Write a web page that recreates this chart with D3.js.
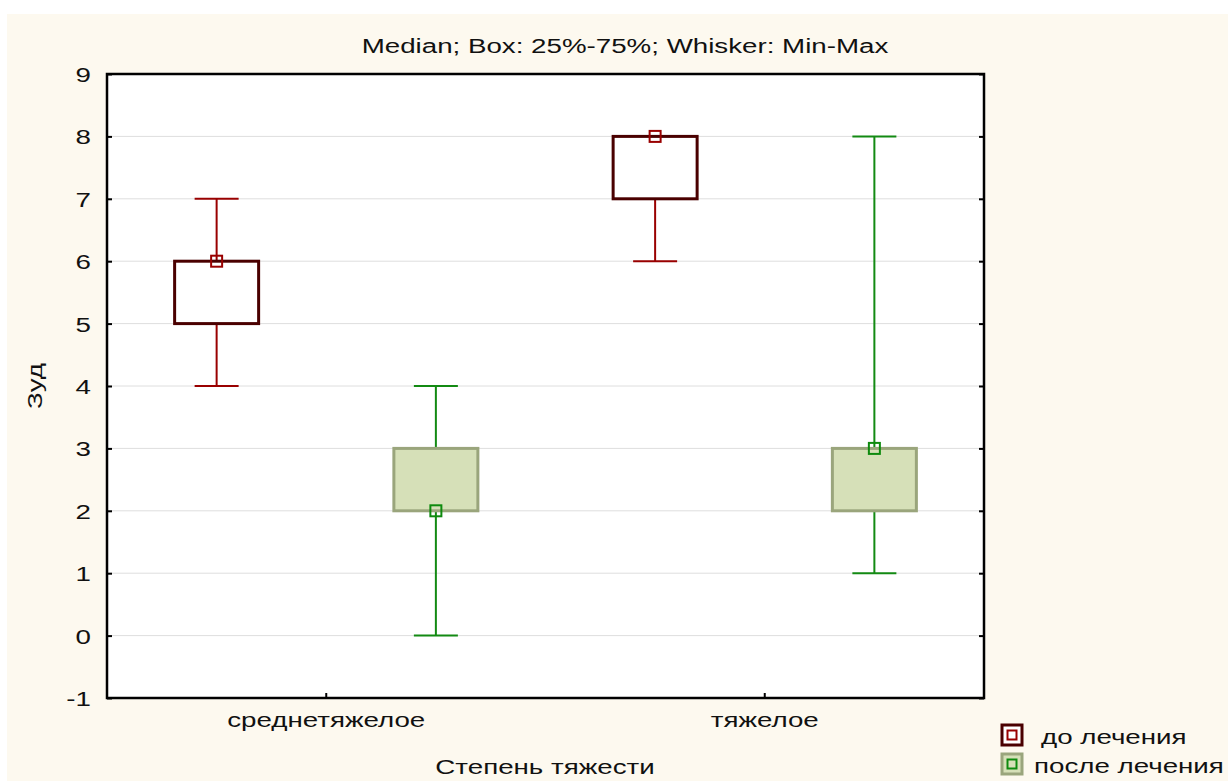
<!DOCTYPE html>
<html>
<head>
<meta charset="utf-8">
<script src="https://cdn.jsdelivr.net/npm/d3@7/dist/d3.min.js"></script>
<style>
  html, body { margin: 0; padding: 0; background: #ffffff; }
  svg { display: block; }
  text { font-family: Arial, "Liberation Sans", sans-serif; fill: #111; }
</style>
</head>
<body>
<svg id="chart" width="1228" height="781"></svg>
<script>
// Severity groups and treatment series
const categories = ["среднетяжелое", "тяжелое"];
const seriesNames = ["до лечения", "после лечения"];

// Box-plot statistics per category: [min, q1, median, q3, max]
const beforeStats = [[4, 5, 6, 6, 7], [6, 7, 8, 8, 8]];
const afterStats  = [[0, 2, 2, 3, 4], [1, 2, 3, 3, 8]];

const yTicks = [-1, 0, 1, 2, 3, 4, 5, 6, 7, 8, 9];
const titleText = "Median; Box: 25%-75%; Whisker: Min-Max";
const yLabel = "Зуд";
const xLabel = "Степень тяжести";

const styles = [
  { boxFill: "#ffffff", boxStroke: "#4a0000", whisker: "#990000", marker: "#990000" },
  { boxFill: "#d6e0b8", boxStroke: "#9aa57c", whisker: "#138a13", marker: "#0e8a0e" }
];

// wide, horizontally stretched lettering
const FS = "21px", SX = 1.32;

const svg = d3.select("#chart");
const W = 1228, H = 781;
const plot = { left: 107, top: 74, right: 984, bottom: 698 };

// places a stretched label with its anchor at (x, y)
function label(parent, x, y, str, anchor, rotate) {
  const g = parent.append("g")
    .attr("transform", `translate(${x},${y})` + (rotate ? ` rotate(${rotate})` : "") + ` scale(${SX},1)`);
  g.append("text").attr("text-anchor", anchor || "start").style("font-size", FS).text(str);
  return g;
}

// page background
svg.append("rect").attr("x", 7).attr("y", 14).attr("width", W - 7).attr("height", H - 14)
  .attr("fill", "#fdf9ef");

// plot area
svg.append("rect").attr("x", plot.left).attr("y", plot.top)
  .attr("width", plot.right - plot.left).attr("height", plot.bottom - plot.top)
  .attr("fill", "#ffffff");

const y = d3.scaleLinear().domain([-1, 9]).range([plot.bottom, plot.top]);
const x = d3.scaleBand().domain(categories).range([plot.left, plot.right]).padding(0);
const xs = d3.scaleBand().domain(seriesNames).range([0, x.bandwidth()]).padding(0);

// gridlines
svg.append("g").selectAll("line").data(yTicks.filter(t => t > -1 && t < 9)).join("line")
  .attr("x1", plot.left).attr("x2", plot.right)
  .attr("y1", d => y(d)).attr("y2", d => y(d))
  .attr("stroke", "#dedede").attr("stroke-width", 1);

// left axis with labels
const yAxisL = svg.append("g").attr("transform", `translate(${plot.left},0)`)
  .call(d3.axisLeft(y).tickValues(yTicks).tickSize(-5).tickFormat(d => String(d)));
yAxisL.select(".domain").remove();
yAxisL.selectAll("line").attr("stroke", "#000").attr("stroke-width", 2);
yAxisL.selectAll("text")
  .attr("x", -16 / SX).attr("dy", "0.36em")
  .attr("transform", `scale(${SX},1)`)
  .style("font-size", FS).attr("fill", "#111");

// right axis ticks (inward)
const yAxisR = svg.append("g").attr("transform", `translate(${plot.right},0)`)
  .call(d3.axisRight(y).tickValues(yTicks).tickSize(-5).tickFormat(""));
yAxisR.select(".domain").remove();
yAxisR.selectAll("line").attr("stroke", "#000").attr("stroke-width", 2);

// bottom axis ticks and category labels
const xAxis = svg.append("g").attr("transform", `translate(0,${plot.bottom})`)
  .call(d3.axisBottom(x).tickSize(-5));
xAxis.select(".domain").remove();
xAxis.selectAll("line").attr("stroke", "#000").attr("stroke-width", 2);
xAxis.selectAll("text")
  .attr("y", 29).attr("dy", 0)
  .attr("transform", `scale(${SX},1)`)
  .style("font-size", FS).attr("fill", "#111");

// boxes
const boxW = 84, capW = 44, markS = 11;
const allStats = [beforeStats, afterStats];
allStats.forEach((stats, si) => {
  const st = styles[si];
  const g = svg.append("g");
  stats.forEach((s, ci) => {
    const cx = x(categories[ci]) + xs(seriesNames[si]) + xs.bandwidth() / 2;
    const [mn, q1, med, q3, mx] = s;
    // whiskers
    g.append("line").attr("x1", cx).attr("x2", cx).attr("y1", y(q3)).attr("y2", y(mx))
      .attr("stroke", st.whisker).attr("stroke-width", 2);
    g.append("line").attr("x1", cx).attr("x2", cx).attr("y1", y(q1)).attr("y2", y(mn))
      .attr("stroke", st.whisker).attr("stroke-width", 2);
    g.append("line").attr("x1", cx - capW / 2).attr("x2", cx + capW / 2).attr("y1", y(mx)).attr("y2", y(mx))
      .attr("stroke", st.whisker).attr("stroke-width", 2);
    g.append("line").attr("x1", cx - capW / 2).attr("x2", cx + capW / 2).attr("y1", y(mn)).attr("y2", y(mn))
      .attr("stroke", st.whisker).attr("stroke-width", 2);
    // box
    g.append("rect").attr("x", cx - boxW / 2).attr("y", y(q3))
      .attr("width", boxW).attr("height", y(q1) - y(q3))
      .attr("fill", st.boxFill).attr("stroke", st.boxStroke).attr("stroke-width", 3);
    // median marker
    g.append("rect").attr("x", cx - markS / 2).attr("y", y(med) - markS / 2)
      .attr("width", markS).attr("height", markS)
      .attr("fill", "none").attr("stroke", st.marker).attr("stroke-width", 2);
  });
});

// plot frame
svg.append("rect").attr("x", plot.left).attr("y", plot.top)
  .attr("width", plot.right - plot.left).attr("height", plot.bottom - plot.top)
  .attr("fill", "none").attr("stroke", "#000").attr("stroke-width", 2.5);

// title and axis labels
label(svg, 625, 53, titleText, "middle");
label(svg, 42, 386, yLabel, "middle", -90);
label(svg, 545, 774, xLabel, "middle");

// legend
const legend = svg.append("g");
seriesNames.forEach((name, i) => {
  const st = styles[i];
  const ly = 725 + i * 29;
  legend.append("rect").attr("x", 1002).attr("y", ly).attr("width", 20).attr("height", 20)
    .attr("fill", st.boxFill).attr("stroke", st.boxStroke).attr("stroke-width", 3);
  legend.append("rect").attr("x", 1007.5).attr("y", ly + 5.5).attr("width", 9).attr("height", 9)
    .attr("fill", "none").attr("stroke", st.marker).attr("stroke-width", 2);
  label(legend, i === 0 ? 1041 : 1034, ly + 19, name, "start");
});
</script>
</body>
</html>
